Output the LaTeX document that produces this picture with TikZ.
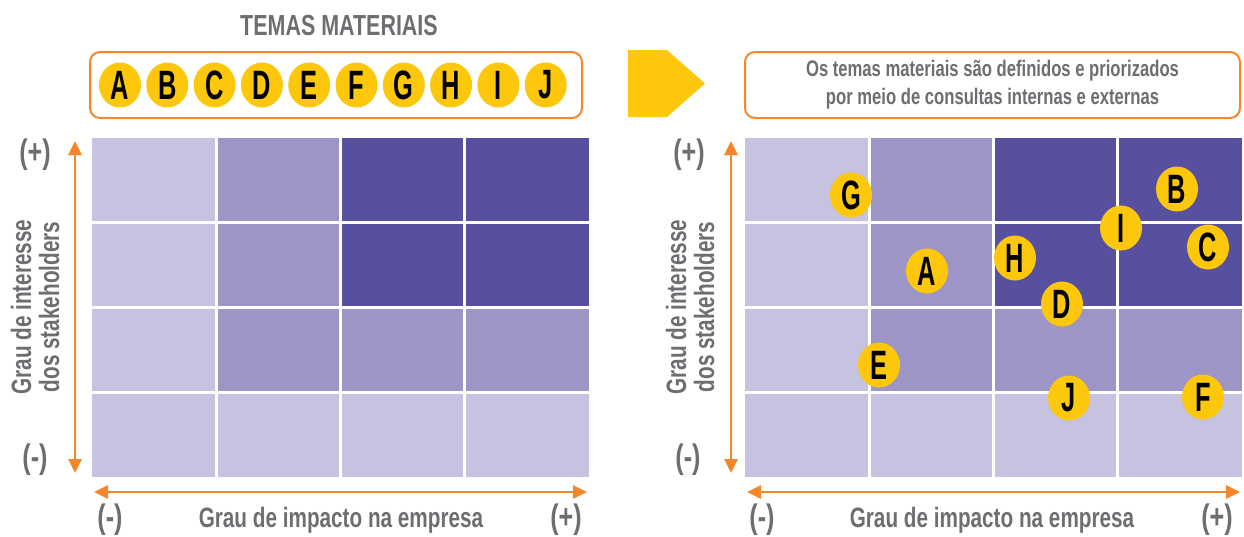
\documentclass[tikz,border=0pt]{standalone}
\usepackage{fontspec}
\setmainfont[FakeStretch=0.74]{Liberation Sans}
\newfontfamily\letra[FakeStretch=0.62]{Liberation Sans}
\usetikzlibrary{arrows.meta,shapes.geometric}
\definecolor{laranja}{HTML}{F5862A}
\definecolor{amarelo}{HTML}{FDC70C}
\definecolor{cinza}{HTML}{6D6E71}
\definecolor{roxoclaro}{HTML}{C6C3E1}
\definecolor{roxomedio}{HTML}{9C95C6}
\definecolor{roxoescuro}{HTML}{56509F}

\begin{document}
\begin{tikzpicture}[x=1pt,y=-1pt,
    tema/.style={ellipse,fill=amarelo,minimum width=42pt,minimum height=45pt,inner sep=0pt,
      text=black,font=\letra\fontsize{41}{41}\selectfont\bfseries},
    caixa/.style={draw=laranja,line width=2pt,rounded corners=10pt,fill=white},
    rotulo/.style={text=cinza,font=\fontsize{28}{28}\selectfont\bfseries,align=center},
    sinal/.style={text=cinza,font=\fontsize{34}{34}\selectfont\bfseries},
    eixo/.style={draw=laranja,line width=2.8pt,{Triangle[length=14pt,width=13pt]}-{Triangle[length=14pt,width=13pt]}}]
  \useasboundingbox (0,0) rectangle (1244,536);

  \node[text=cinza,font=\fontsize{29}{29}\selectfont\bfseries] (titulo) at (339,26) {TEMAS MATERIAIS};
  \node[caixa,minimum width=492pt,minimum height=66pt] (lista) at (336,85) {};
  \foreach \l [count=\i from 0] in {A,...,J}
    \node[tema] (t\l) at (120+47.3*\i,85) {\l};

  \fill[amarelo] (628,50) -- (667,50) -- (705,83.5) -- (667,117) -- (628,117) -- cycle;
  \node[caixa,minimum width=495pt,minimum height=66pt,text=cinza,align=center,
    font=\fontsize{22.5}{28}\selectfont\bfseries] (nota) at (992.5,85)
    {Os temas materiais são definidos e priorizados\\por meio de consultas internas e externas};

  % as duas matrizes
  \foreach \gx in {92,745} {
    \foreach \r/\cols in {0/{roxoclaro,roxomedio,roxoescuro,roxoescuro},
                          1/{roxoclaro,roxomedio,roxoescuro,roxoescuro},
                          2/{roxoclaro,roxomedio,roxomedio,roxomedio},
                          3/{roxoclaro,roxoclaro,roxoclaro,roxoclaro}}
      \foreach \c [count=\k from 0] in \cols
        \fill[fill=\c] (\gx+124.25*\k,138+84.75*\r) rectangle ++(124.25,84.75);
    \foreach \k in {1,2,3} {
      \draw[white,line width=3pt] (\gx+124.25*\k,138) -- ++(0,339);
      \draw[white,line width=3pt] (\gx,138+84.75*\k) -- ++(497,0);
    }
  }

  \coordinate (yaltoE) at (75,141);
  \coordinate (ybaixoE) at (75,473);
  \coordinate (xesqE) at (94,492);
  \coordinate (xdirE) at (587,492);
  \coordinate (yaltoD) at (731,141);
  \coordinate (ybaixoD) at (731,473);
  \coordinate (xesqD) at (747,492);
  \coordinate (xdirD) at (1240,492);
  \draw[eixo] (yaltoE) -- (ybaixoE);
  \draw[eixo] (xesqE) -- (xdirE);
  \draw[eixo] (yaltoD) -- (ybaixoD);
  \draw[eixo] (xesqD) -- (xdirD);

  \node[sinal] (maisE) at (35,155) {(+)};
  \node[sinal] (menosE) at (35,460) {(-)};
  \node[rotulo,rotate=90] (interesseE) at (35,307) {Grau de interesse\\dos stakeholders};
  \node[sinal] (menosxE) at (110,520) {(-)};
  \node[sinal] (maisxE) at (566,520) {(+)};
  \node[rotulo] (impactoE) at (341,520) {Grau de impacto na empresa};

  \node[sinal] (maisD) at (689,155) {(+)};
  \node[sinal] (menosD) at (688,460) {(-)};
  \node[rotulo,rotate=90] (interesseD) at (690,307) {Grau de interesse\\dos stakeholders};
  \node[sinal] (menosxD) at (762,520) {(-)};
  \node[sinal] (maisxD) at (1217,520) {(+)};
  \node[rotulo] (impactoD) at (992,520) {Grau de impacto na empresa};

  \node[tema] (G) at (851,195) {G};
  \node[tema] (A) at (927,271) {A};
  \node[tema] (H) at (1015,258) {H};
  \node[tema] (D) at (1062,304) {D};
  \node[tema] (I) at (1121,228) {I};
  \node[tema] (B) at (1177,189) {B};
  \node[tema] (C) at (1208,247) {C};
  \node[tema] (E) at (879,365) {E};
  \node[tema] (J) at (1069,398) {J};
  \node[tema] (F) at (1203,397) {F};
\end{tikzpicture}
\end{document}
